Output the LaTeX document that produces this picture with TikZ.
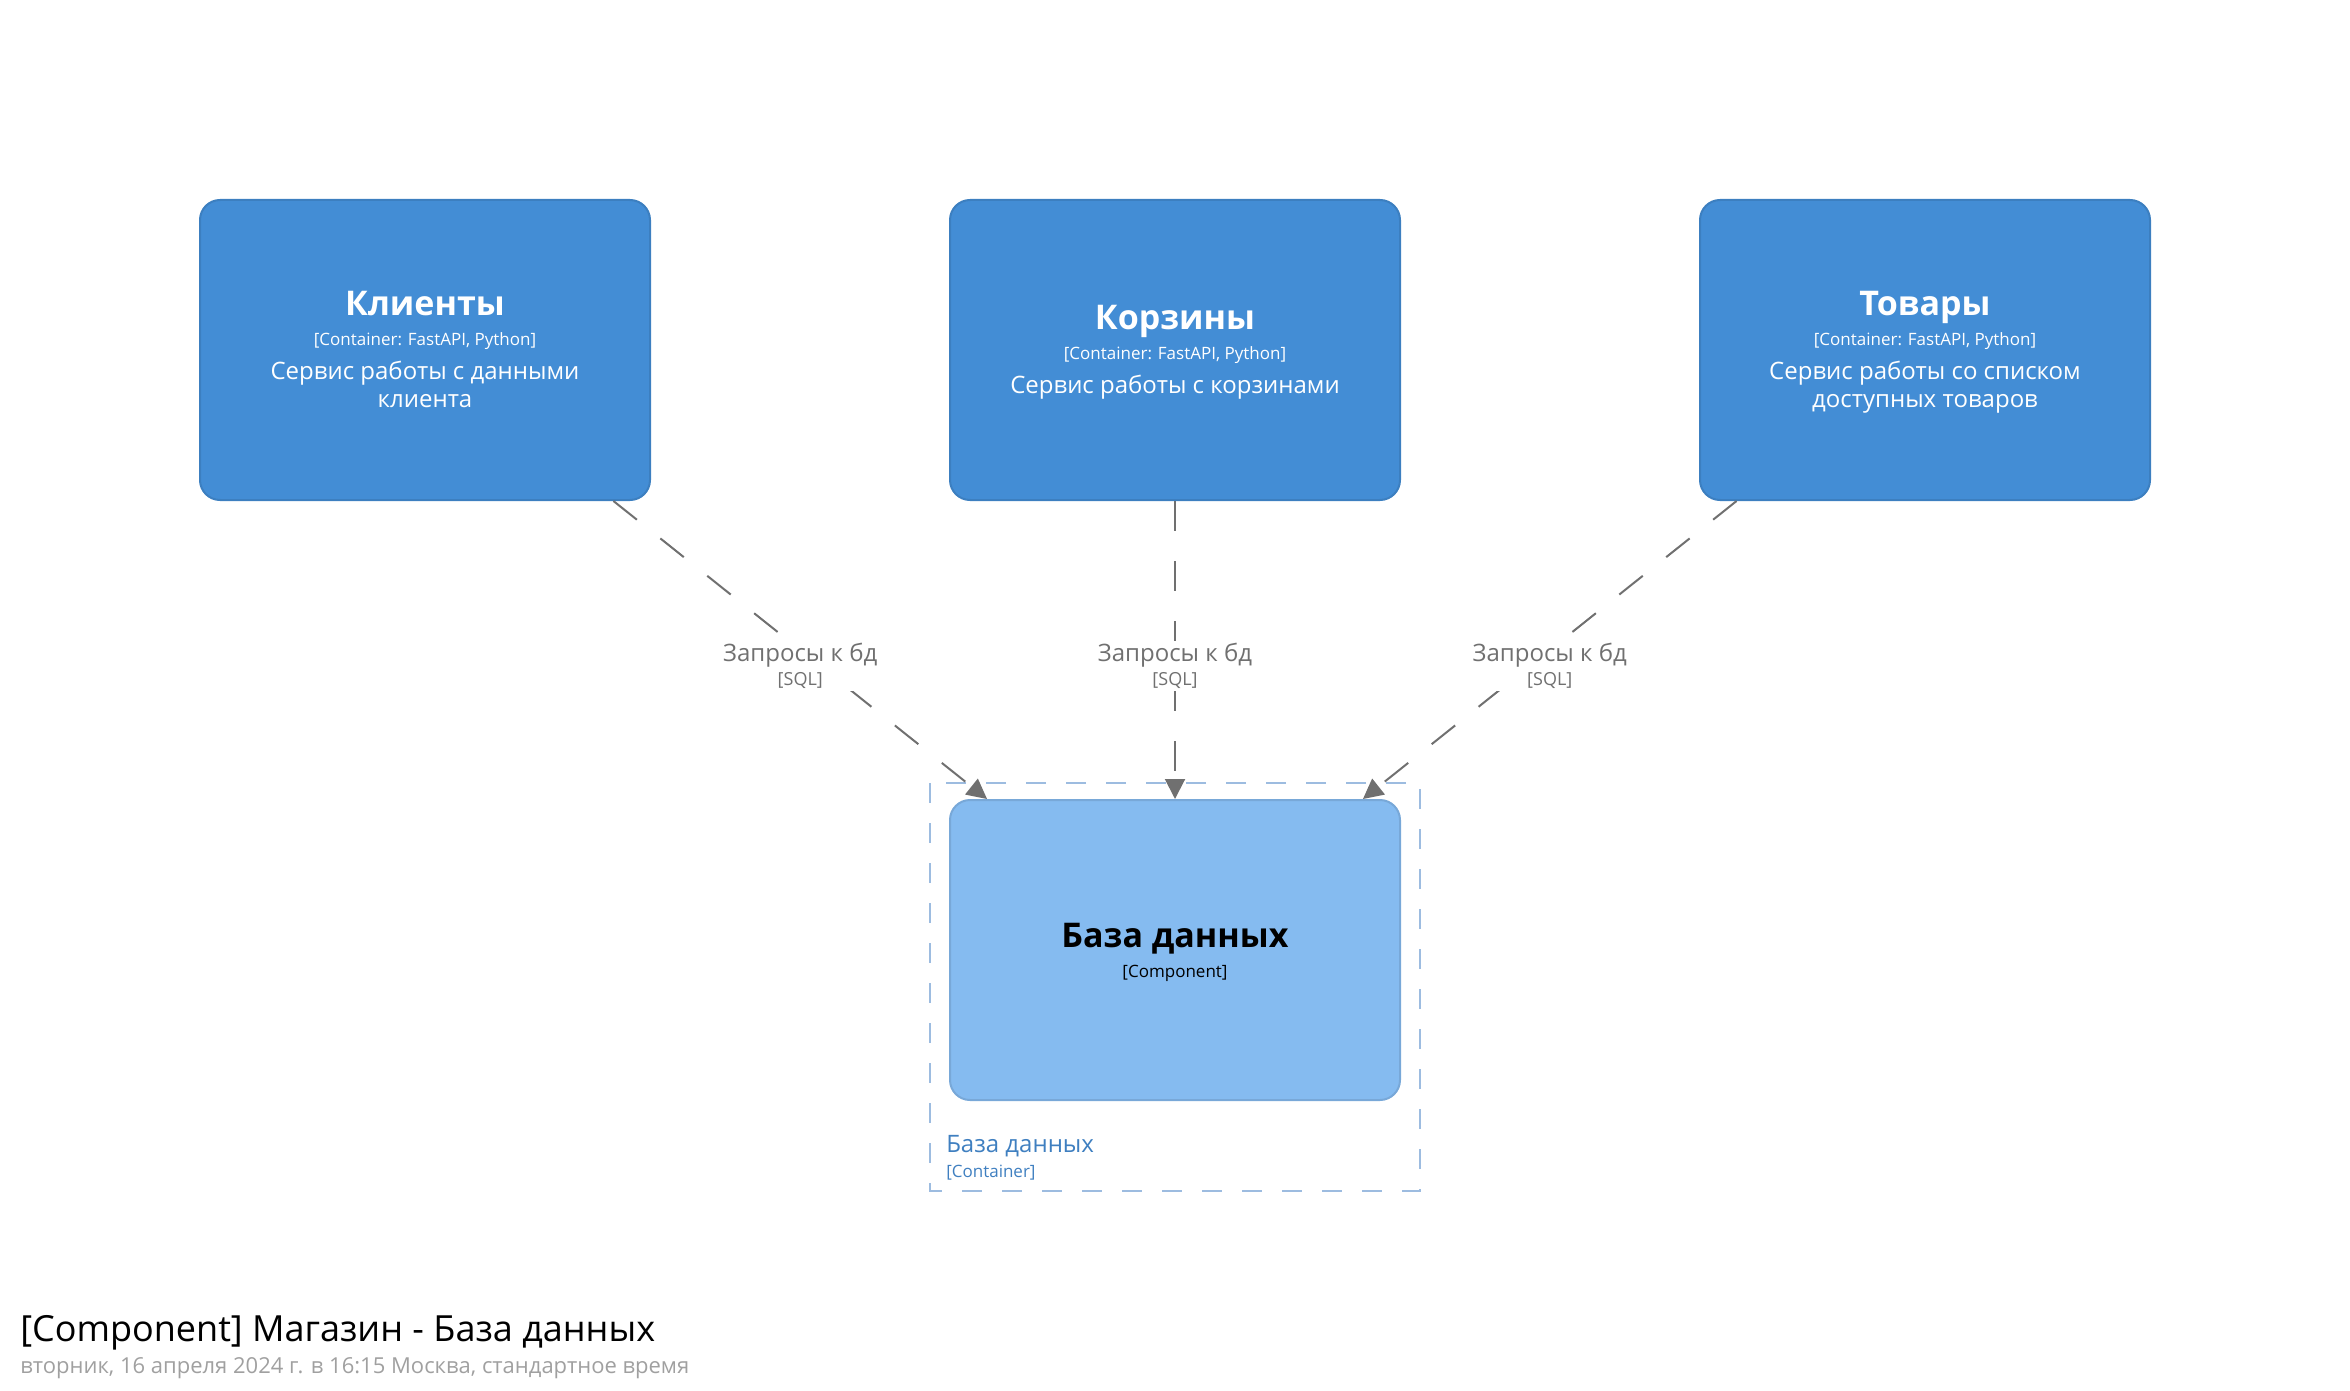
\documentclass[tikz,border=0pt]{standalone}
\usepackage{fontspec}
\setmainfont{Open Sans}
\usetikzlibrary{arrows.meta}
\definecolor{contblue}{HTML}{438DD5}
\definecolor{contedge}{HTML}{3C7FC0}
\definecolor{compblue}{HTML}{85BBF0}
\definecolor{compedge}{HTML}{78A8D8}
\definecolor{relgray}{HTML}{707070}
\definecolor{bndblue}{HTML}{9DBCE0}
\definecolor{bndtext}{HTML}{3F7FC0}
\definecolor{subgray}{HTML}{A0A0A0}
\tikzset{
    contnode/.style = {rectangle, rounded corners=15pt, line width=1.5pt, draw=contedge, fill=contblue, text=white, align=center, minimum width=337.5pt, minimum height=225pt, font=\fontsize{18}{21}\selectfont},
    compnode/.style = {rectangle, rounded corners=15pt, line width=1.5pt, draw=compedge, fill=compblue, text=black, align=center, minimum width=337.5pt, minimum height=225pt, font=\fontsize{18}{21}\selectfont},
    rellabel/.style = {fill=white, text=relgray, align=center, inner sep=2pt, yshift=-12pt, font=\fontsize{18}{18}\selectfont},
    bndlabel/.style = {anchor=base west, inner sep=0pt, text=bndtext, font=\fontsize{18}{21}\selectfont},
    bndtech/.style = {anchor=base west, inner sep=0pt, text=bndtext, font=\fontsize{12.75}{15}\selectfont},
    titletext/.style = {anchor=base west, inner sep=0pt, font=\fontsize{27}{32}\selectfont},
    subtext/.style = {anchor=base west, inner sep=0pt, text=subgray, font=\fontsize{16.5}{20}\selectfont},
    edgeq/.style = {-{Triangle[length=15pt,width=15pt]}, line width=1.5pt, relgray, dash pattern=on 22.5pt off 22.5pt}, % queries
    boundary/.style = {line width=1.5pt, draw=bndblue, dash pattern=on 15pt off 15pt}
}
\newcommand{\elname}[1]{{\fontsize{25.5}{30}\selectfont\bfseries\rule{0pt}{22pt}#1}}
\newcommand{\eltech}[1]{{\fontsize{12.75}{15}\selectfont #1}}
\newcommand{\reltech}[1]{{\fontsize{13.5}{16}\selectfont #1}}
\newcommand{\lowstrut}{\rule[-4.5pt]{0pt}{0pt}}

\begin{document}
\begin{tikzpicture}[x=0.75pt,y=-0.75pt]
\useasboundingbox (0,0) rectangle (2350,1391);
%
\node[contnode] at (425, 350) (kl) {\elname{Клиенты}\\[1pt] \eltech{[Container: FastAPI, Python]}\\[5pt] Сервис работы с данными\\ клиента\lowstrut};
\node[contnode] at (1175, 350) (ko) {\elname{Корзины}\\[1pt] \eltech{[Container: FastAPI, Python]}\\[5pt] Сервис работы с корзинами\lowstrut};
\node[contnode] at (1925, 350) (tv) {\elname{Товары}\\[1pt] \eltech{[Container: FastAPI, Python]}\\[5pt] Сервис работы со списком\\ доступных товаров\lowstrut};
\node[compnode] at (1175, 950) (db) {\elname{База данных}\\[1pt] \eltech{[Component]}};
%
\path[boundary] (930, 783) rectangle (1420, 1191);
\node[bndlabel] at (946, 1152) (bname) {База данных};
\node[bndtech] at (946, 1177) (btech) {[Container]};
%
\draw[edgeq] (kl) edge node[rellabel] {Запросы к бд\\ \reltech{[SQL]}} (db);
\draw[edgeq] (ko) edge node[rellabel] {Запросы к бд\\ \reltech{[SQL]}} (db);
\draw[edgeq] (tv) edge node[rellabel] {Запросы к бд\\ \reltech{[SQL]}} (db);
%
\node[titletext] at (20, 1341) (title) {[Component] Магазин - База данных};
\node[subtext] at (20, 1373) (subtitle) {вторник, 16 апреля 2024 г. в 16:15 Москва, стандартное время};

\end{tikzpicture}
\end{document}
